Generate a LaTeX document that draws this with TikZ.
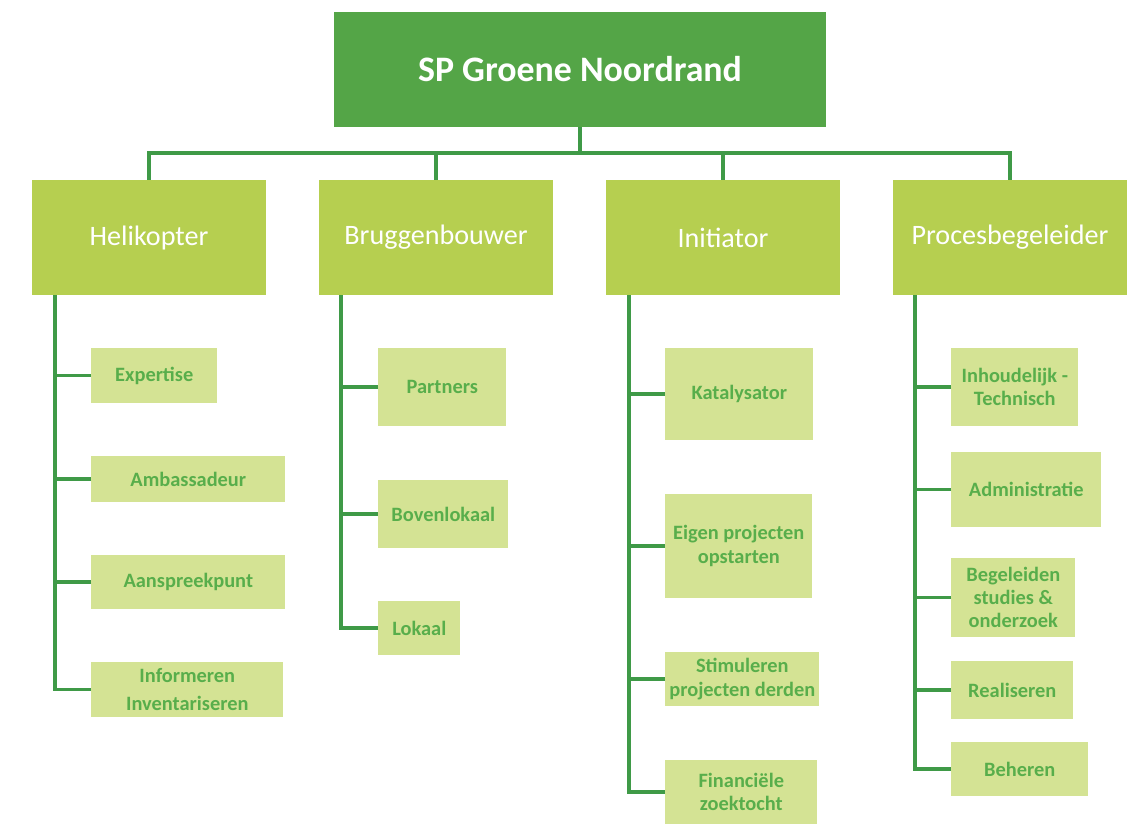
\documentclass[tikz,border=0pt]{standalone}
\usepackage{fontspec}
\setmainfont{Carlito}
\definecolor{rootgreen}{HTML}{54A547}
\definecolor{rolegreen}{HTML}{B6CF50}
\definecolor{taskgreen}{HTML}{D4E394}
\definecolor{linkgreen}{HTML}{3F9A47}
\definecolor{textgreen}{HTML}{58AE4B}
\begin{document}
\begin{tikzpicture}[x=0.025cm,y=-0.025cm,
  rootbox/.style={fill=rootgreen,text=white,font=\fontsize{25.5}{30}\selectfont\bfseries,
    minimum width=12.3cm,minimum height=2.875cm,inner sep=0pt},
  rolebox/.style={fill=rolegreen,text=white,font=\fontsize{20}{24}\selectfont,
    minimum width=5.85cm,minimum height=2.875cm,inner sep=0pt},
  taskbox/.style={fill=taskgreen,text=textgreen,font=\fontsize{14.5}{16.5}\selectfont\bfseries,
    anchor=west,align=center,inner sep=0pt},
  link/.style={draw=linkgreen,line width=2.6pt}]
\useasboundingbox (0,0) rectangle (1132,824);
\node[rootbox] (top) at (580,69.5) {SP Groene Noordrand};
\node[rolebox] (heli) at (149,237.5) {Helikopter};
\node[rolebox] (brug) at (436,237.5) {Bruggenbouwer};
\node[rolebox] (init) at (723,237.5) {Initiator};
\node[rolebox] (proc) at (1010,237.5) {Procesbegeleider};
\coordinate (bus) at (580,153);
\draw[link] (top.south) -- (bus);
\draw[link] (heli.north) |- (bus) -| (proc.north);
\draw[link] (brug.north) -- (brug.north |- bus);
\draw[link] (init.north) -- (init.north |- bus);

\node[taskbox,minimum width=3.15cm,minimum height=1.375cm] (expertise) at (91,375.5) {Expertise};
\node[taskbox,minimum width=4.85cm,minimum height=1.15cm] (ambassadeur) at (91,479) {Ambassadeur};
\node[taskbox,minimum width=4.85cm,minimum height=1.35cm] (aanspreekpunt) at (91,582) {Aanspreekpunt};
\node[taskbox,minimum width=4.8cm,minimum height=1.375cm] (informeren) at (91,689.5) {Informeren\\[4pt]Inventariseren};
\coordinate (hk) at (55,295);
\draw[link] (hk) |- (informeren.west);
\foreach \t in {expertise,ambassadeur,aanspreekpunt}
  \draw[link] (\t.west) -- (\t.west -| hk);

\node[taskbox,minimum width=3.2cm,minimum height=1.95cm] (partners) at (378,387) {Partners};
\node[taskbox,minimum width=3.25cm,minimum height=1.7cm] (bovenlokaal) at (378,514) {Bovenlokaal};
\node[taskbox,minimum width=2.05cm,minimum height=1.35cm] (lokaal) at (378,628) {Lokaal};
\coordinate (bb) at (341,295);
\draw[link] (bb) |- (lokaal.west);
\foreach \t in {partners,bovenlokaal}
  \draw[link] (\t.west) -- (\t.west -| bb);

\node[taskbox,minimum width=3.7cm,minimum height=2.3cm] (katalysator) at (665,394) {Katalysator};
\node[taskbox,minimum width=3.675cm,minimum height=2.6cm] (eigen) at (665,546) {Eigen projecten\\opstarten};
\node[taskbox,minimum width=3.85cm,minimum height=1.35cm] (stimuleren) at (665,679) {Stimuleren\\projecten derden};
\node[taskbox,minimum width=3.8cm,minimum height=1.6cm] (financieel) at (665,792) {Financiële\\zoektocht};
\coordinate (in) at (629,295);
\draw[link] (in) |- (financieel.west);
\foreach \t in {katalysator,eigen,stimuleren}
  \draw[link] (\t.west) -- (\t.west -| in);

\node[taskbox,minimum width=3.175cm,minimum height=1.95cm] (inhoudelijk) at (951,387) {Inhoudelijk -\\Technisch};
\node[taskbox,minimum width=3.75cm,minimum height=1.875cm] (administratie) at (951,489.5) {Administratie};
\node[taskbox,minimum width=3.1cm,minimum height=1.975cm] (begeleiden) at (951,597.5) {Begeleiden\\studies \&\\onderzoek};
\node[taskbox,minimum width=3.05cm,minimum height=1.45cm] (realiseren) at (951,690) {Realiseren};
\node[taskbox,minimum width=3.425cm,minimum height=1.35cm] (beheren) at (951,769) {Beheren};
\coordinate (pb) at (915,295);
\draw[link] (pb) |- (beheren.west);
\foreach \t in {inhoudelijk,administratie,begeleiden,realiseren}
  \draw[link] (\t.west) -- (\t.west -| pb);
\end{tikzpicture}
\end{document}
